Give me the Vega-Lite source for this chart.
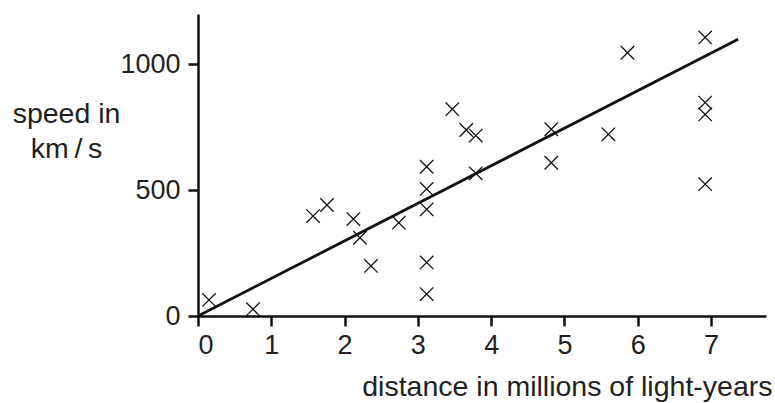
{
  "$schema": "https://vega.github.io/schema/vega-lite/v6.json",
  "width": 568,
  "height": 302,
  "autosize": "none",
  "padding": {"left": 198, "top": 14, "right": 9, "bottom": 87},
  "config": {
    "view": {"stroke": null},
    "font": "Liberation Sans",
    "axis": {
      "grid": false,
      "domainColor": "#111111",
      "domainWidth": 2.5,
      "tickColor": "#111111",
      "tickWidth": 2.5,
      "tickSize": 10,
      "labelFont": "Liberation Sans",
      "labelFontSize": 27,
      "labelColor": "#231f20",
      "titleFont": "Liberation Sans",
      "titleFontSize": 28.5,
      "titleFontWeight": "normal",
      "titleColor": "#231f20"
    }
  },
  "layer": [
    {
      "data": {"values": [
        {"distance": 0.15, "speed": 64},
        {"distance": 0.75, "speed": 27},
        {"distance": 1.57, "speed": 397},
        {"distance": 1.76, "speed": 441},
        {"distance": 2.12, "speed": 385},
        {"distance": 2.21, "speed": 311},
        {"distance": 2.36, "speed": 199},
        {"distance": 2.74, "speed": 371},
        {"distance": 3.12, "speed": 593},
        {"distance": 3.12, "speed": 505},
        {"distance": 3.12, "speed": 424},
        {"distance": 3.12, "speed": 213},
        {"distance": 3.12, "speed": 87},
        {"distance": 3.47, "speed": 822},
        {"distance": 3.66, "speed": 739},
        {"distance": 3.79, "speed": 717},
        {"distance": 3.79, "speed": 567},
        {"distance": 4.82, "speed": 742},
        {"distance": 4.82, "speed": 609},
        {"distance": 5.6, "speed": 722},
        {"distance": 5.86, "speed": 1046},
        {"distance": 6.92, "speed": 1107},
        {"distance": 6.92, "speed": 848},
        {"distance": 6.92, "speed": 801},
        {"distance": 6.92, "speed": 524}
      ]},
      "mark": {
        "type": "point",
        "shape": "M-1,-1L1,1M-1,1L1,-1",
        "filled": false,
        "size": 180,
        "strokeWidth": 1.3,
        "color": "#111111",
        "opacity": 1
      },
      "encoding": {
        "x": {
          "field": "distance", "type": "quantitative",
          "scale": {"domain": [0, 7.75], "nice": false, "zero": false},
          "axis": {
            "values": [0, 1, 2, 3, 4, 5, 6, 7],
            "format": "d",
            "labelPadding": 6,
            "title": "distance in millions of light-years",
            "titleAnchor": "end",
            "titleAlign": "right",
            "titleBaseline": "alphabetic",
            "titleX": 574,
            "titleY": 79
          }
        },
        "y": {
          "field": "speed", "type": "quantitative",
          "scale": {"domain": [0, 1200], "nice": false, "zero": false},
          "axis": {
            "values": [0, 500, 1000],
            "format": "d",
            "labelPadding": 8,
            "title": ["speed in", "km\u2009/\u2009s"],
            "titleAngle": 0,
            "titleAlign": "center",
            "titleBaseline": "alphabetic",
            "titleLineHeight": 35,
            "titleX": -132,
            "titleY": 108
          }
        }
      }
    },
    {
      "data": {"values": [
        {"distance": 0, "speed": 0},
        {"distance": 7.37, "speed": 1100}
      ]},
      "mark": {"type": "line", "color": "#111111", "strokeWidth": 2.8},
      "encoding": {
        "x": {"field": "distance", "type": "quantitative"},
        "y": {"field": "speed", "type": "quantitative"}
      }
    }
  ]
}
